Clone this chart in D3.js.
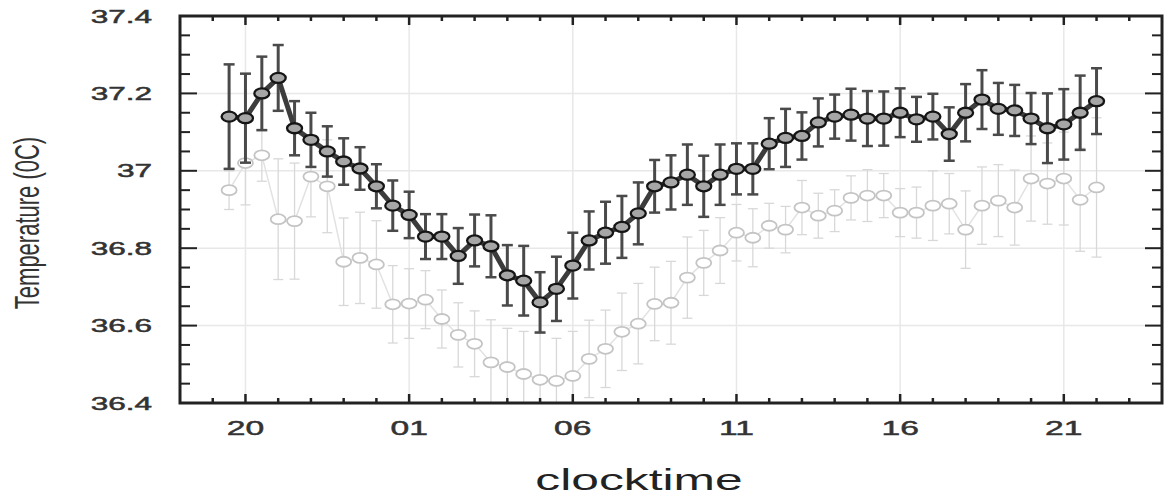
<!DOCTYPE html>
<html>
<head>
<meta charset="utf-8">
<script src="https://cdn.jsdelivr.net/npm/d3@7"></script>
<style>
  body { margin: 0; background: #fff; }
  svg { display: block; }
</style>
</head>
<body>
<div id="chart"></div>
<script>
// clock hours, counted on from the evening (24 = 00, 25 = 01 ...)
var hours = [19.5, 20, 20.5, 21, 21.5, 22, 22.5, 23, 23.5, 24, 24.5, 25, 25.5, 26, 26.5, 27, 27.5, 28,
  28.5, 29, 29.5, 30, 30.5, 31, 31.5, 32, 32.5, 33, 33.5, 34, 34.5, 35, 35.5, 36, 36.5, 37, 37.5,
  38, 38.5, 39, 39.5, 40, 40.5, 41, 41.5, 42, 42.5, 43, 43.5, 44, 44.5, 45, 45.5, 46]

var darkMean = [37.14, 37.136, 37.20, 37.24, 37.11, 37.08, 37.05, 37.024, 37.006, 36.96,
  36.91, 36.886, 36.83, 36.83, 36.78, 36.82, 36.805, 36.73, 36.716, 36.66,
  36.695, 36.755, 36.82, 36.84, 36.855, 36.89, 36.96, 36.97, 36.99, 36.96,
  36.99, 37.005, 37.005, 37.07, 37.085, 37.09, 37.125, 37.14, 37.145, 37.135,
  37.135, 37.15, 37.133, 37.14, 37.095, 37.15, 37.184, 37.16, 37.156, 37.135,
  37.11, 37.12, 37.15, 37.18]
var darkErr = [0.135, 0.115, 0.095, 0.085, 0.07, 0.07, 0.065, 0.06, 0.055, 0.057,
  0.065, 0.06, 0.058, 0.058, 0.072, 0.067, 0.08, 0.078, 0.09, 0.078,
  0.083, 0.085, 0.075, 0.08, 0.08, 0.08, 0.068, 0.07, 0.078, 0.079,
  0.078, 0.066, 0.066, 0.066, 0.075, 0.061, 0.062, 0.057, 0.067, 0.071,
  0.07, 0.063, 0.058, 0.059, 0.069, 0.074, 0.076, 0.067, 0.066, 0.066,
  0.09, 0.091, 0.096, 0.085]

var lightMean = [36.95, 37.02, 37.04, 36.875, 36.87, 36.985, 36.96, 36.765, 36.775, 36.758,
  36.655, 36.657, 36.667, 36.617, 36.576, 36.553, 36.505, 36.493, 36.475, 36.46,
  36.457, 36.47, 36.514, 36.54, 36.584, 36.605, 36.656, 36.659, 36.724, 36.762,
  36.794, 36.84, 36.827, 36.858, 36.848, 36.905, 36.884, 36.897, 36.93, 36.936,
  36.936, 36.892, 36.892, 36.91, 36.915, 36.848, 36.91, 36.923, 36.905, 36.98,
  36.967, 36.98, 36.925, 36.957]
var lightErr = [0.05, 0.108, 0.067, 0.156, 0.15, 0.104, 0.12, 0.113, 0.118, 0.113,
  0.1, 0.09, 0.075, 0.075, 0.083, 0.085, 0.11, 0.1, 0.11, 0.125,
  0.11, 0.115, 0.1, 0.1, 0.1, 0.104, 0.095, 0.107, 0.105, 0.084,
  0.085, 0.073, 0.075, 0.058, 0.06, 0.07, 0.058, 0.054, 0.057, 0.067,
  0.057, 0.062, 0.066, 0.09, 0.078, 0.1, 0.1, 0.093, 0.097, 0.11,
  0.105, 0.12, 0.133, 0.18]

var xMajor = [20, 25, 30, 35, 40, 45]
var xLabels = ['20', '01', '06', '11', '16', '21']
var yMajor = [36.4, 36.6, 36.8, 37, 37.2, 37.4]
var yLabels = ['36.4', '36.6', '36.8', '37', '37.2', '37.4']

var width = 1166
var height = 501
var plotL = 180
var plotR = 1162
var plotT = 16
var plotB = 403

var x = d3.scaleLinear().domain([18, 48]).range([plotL, plotR])
var y = d3.scaleLinear().domain([36.4, 37.4]).range([plotB, plotT])

var svg = d3.select('#chart')
  .append('svg')
  .attr('width', width)
  .attr('height', height)

svg.append('clipPath')
  .attr('id', 'plot')
  .append('rect')
  .attr('x', plotL)
  .attr('y', plotT)
  .attr('width', plotR - plotL)
  .attr('height', plotB - plotT)

// grid
var grid = svg.append('g')
grid.selectAll('.gx')
  .data(xMajor)
  .enter().append('line')
  .attr('x1', function (d) { return x(d) })
  .attr('x2', function (d) { return x(d) })
  .attr('y1', plotT)
  .attr('y2', plotB)
  .attr('stroke', '#e8e8e8')
  .attr('stroke-width', 1.5)
grid.selectAll('.gy')
  .data(yMajor.slice(1, -1))
  .enter().append('line')
  .attr('x1', plotL)
  .attr('x2', plotR)
  .attr('y1', function (d) { return y(d) })
  .attr('y2', function (d) { return y(d) })
  .attr('stroke', '#e8e8e8')
  .attr('stroke-width', 1.5)

function series (mean, err, style) {
  var data = hours.map(function (h, i) {
    return { h: h, m: mean[i], e: err[i] }
  })
  var g = svg.append('g').attr('clip-path', 'url(#plot)')
  var line = d3.line()
    .x(function (d) { return x(d.h) })
    .y(function (d) { return y(d.m) })

  if (style.lineUnder) {
    g.append('path')
      .datum(data)
      .attr('d', line)
      .attr('fill', 'none')
      .attr('stroke', style.line)
      .attr('stroke-width', style.lineWidth)
  }

  var bars = g.selectAll('.bar')
    .data(data)
    .enter().append('g')
  bars.append('line')
    .attr('x1', function (d) { return x(d.h) })
    .attr('x2', function (d) { return x(d.h) })
    .attr('y1', function (d) { return y(d.m + d.e) })
    .attr('y2', function (d) { return y(d.m - d.e) })
    .attr('stroke', style.bar)
    .attr('stroke-width', style.barWidth)
  ;[1, -1].forEach(function (s) {
    bars.append('line')
      .attr('x1', function (d) { return x(d.h) - style.cap })
      .attr('x2', function (d) { return x(d.h) + style.cap })
      .attr('y1', function (d) { return y(d.m + s * d.e) })
      .attr('y2', function (d) { return y(d.m + s * d.e) })
      .attr('stroke', style.bar)
      .attr('stroke-width', style.capWidth)
  })

  if (!style.lineUnder) {
    g.append('path')
      .datum(data)
      .attr('d', line)
      .attr('fill', 'none')
      .attr('stroke', style.line)
      .attr('stroke-width', style.lineWidth)
  }

  g.selectAll('.pt')
    .data(data)
    .enter().append('ellipse')
    .attr('cx', function (d) { return x(d.h) })
    .attr('cy', function (d) { return y(d.m) })
    .attr('rx', 7.5)
    .attr('ry', 5)
    .attr('fill', style.fill)
    .attr('stroke', style.stroke)
    .attr('stroke-width', style.strokeWidth)
}

series(lightMean, lightErr, {
  lineUnder: true, line: '#e2e2e2', lineWidth: 1.5,
  bar: '#d8d8d8', barWidth: 1.3, cap: 5, capWidth: 1.3,
  fill: '#fff', stroke: '#c4c4c4', strokeWidth: 1.8
})
series(darkMean, darkErr, {
  lineUnder: false, line: '#3c3c3c', lineWidth: 5,
  bar: '#4a4a4a', barWidth: 3, cap: 5.5, capWidth: 2.5,
  fill: '#a6a6a6', stroke: '#151515', strokeWidth: 2.3
})

// frame and ticks
var axes = svg.append('g').attr('stroke', '#222')
axes.append('rect')
  .attr('x', plotL)
  .attr('y', plotT)
  .attr('width', plotR - plotL)
  .attr('height', plotB - plotT)
  .attr('fill', 'none')
  .attr('stroke-width', 3)

var xTicks = d3.range(19, 48, 1)
;[plotB, plotT].forEach(function (edge) {
  var dir = edge === plotB ? -1 : 1
  axes.selectAll(null)
    .data(xTicks)
    .enter().append('line')
    .attr('x1', function (d) { return x(d) })
    .attr('x2', function (d) { return x(d) })
    .attr('y1', edge)
    .attr('y2', function (d) { return edge + dir * (d % 5 === 0 ? 9 : 5) })
    .attr('stroke-width', 2.5)
})

var yTicks = d3.range(1, 20).map(function (i) { return 36.4 + i * 0.05 })
;[plotL, plotR].forEach(function (edge) {
  var dir = edge === plotL ? 1 : -1
  axes.selectAll(null)
    .data(yTicks)
    .enter().append('line')
    .attr('x1', edge)
    .attr('x2', function (d, i) { return edge + dir * ((i + 1) % 4 === 0 ? 17 : 10) })
    .attr('y1', function (d) { return y(d) })
    .attr('y2', function (d) { return y(d) })
    .attr('stroke-width', 2)
})

// labels
var font = 'Liberation Sans, Arial, sans-serif'
svg.selectAll('.ylab')
  .data(yMajor)
  .enter().append('text')
  .attr('transform', function (d) { return 'translate(152,' + (y(d) + 6.5) + ') scale(1.75,1)' })
  .attr('text-anchor', 'end')
  .attr('font-family', font)
  .attr('font-size', 18)
  .attr('fill', '#333')
  .attr('stroke', '#333')
  .attr('stroke-width', 0.5)
  .text(function (d, i) { return yLabels[i] })

svg.selectAll('.xlab')
  .data(xMajor)
  .enter().append('text')
  .attr('transform', function (d) { return 'translate(' + x(d) + ',435) scale(1.6,1)' })
  .attr('text-anchor', 'middle')
  .attr('font-family', font)
  .attr('font-size', 21)
  .attr('fill', '#333')
  .attr('stroke', '#333')
  .attr('stroke-width', 0.5)
  .text(function (d, i) { return xLabels[i] })

svg.append('text')
  .attr('transform', 'translate(639,490) scale(1.66,1)')
  .attr('text-anchor', 'middle')
  .attr('font-family', font)
  .attr('font-size', 30)
  .attr('fill', '#222')
  .text('clocktime')

svg.append('text')
  .attr('transform', 'translate(39,223) scale(1.6,1) rotate(-90)')
  .attr('text-anchor', 'middle')
  .attr('font-family', font)
  .attr('font-size', 22)
  .attr('fill', '#333')
  .text('Temperature (0C)')
</script>
</body>
</html>
